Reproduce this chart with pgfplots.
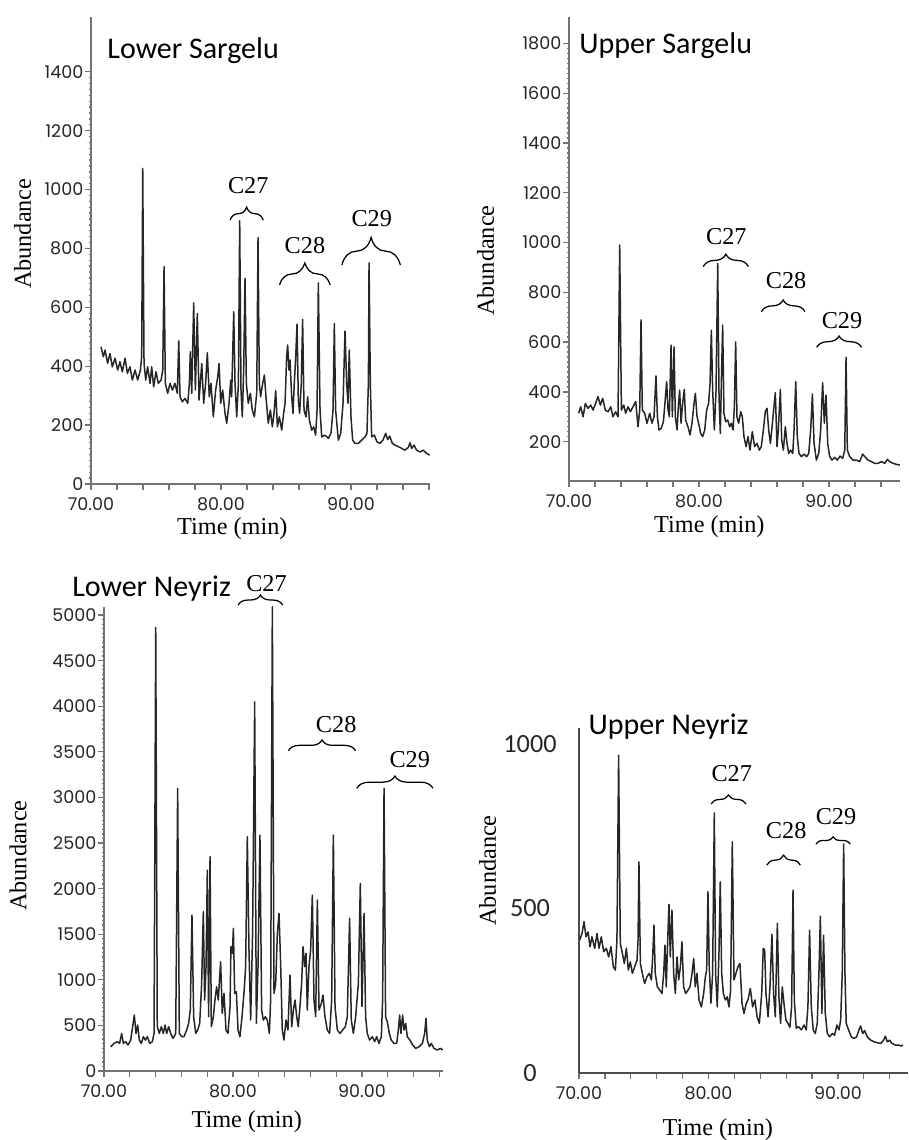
\documentclass[border=0pt]{standalone}
\usepackage{fontspec}
\setmainfont{Liberation Serif}
\newfontfamily\calib{Carlito}
\newfontfamily\goth{Poppins}
\usepackage{pgfplots}
\pgfplotsset{compat=1.18}
\usetikzlibrary{decorations.pathreplacing}

\tikzset{
  trace/.style={black!85, line width=0.6pt, line join=round},
  brc/.style={decorate, decoration={brace, amplitude=#1}, line width=0.5pt},
}
\pgfplotsset{
  chrom/.style={
    scale only axis, clip=false,
    axis x line*=bottom, axis y line*=left,
    axis line style={black!55, line width=0.8pt},
    tick align=outside,
    major tick length=2.4pt, minor tick length=0.8pt,
    tick style={black!55, line width=0.5pt},
    xmin=70,
    xtick={70,72,...,96},
    xticklabels={70.00,{},{},{},{},80.00,{},{},{},{},90.00,{},{},{}},
    scaled y ticks=false,
    /pgf/number format/.cd, 1000 sep={}, assume math mode=true, /pgfplots/.cd,
    ticklabel style={font=\goth\fontsize{7}{8}\selectfont, text=black!85},
    yticklabel style={inner sep=0.5pt},
    xticklabel style={inner sep=0pt, yshift=-2.9pt},
    label style={font=\fontsize{9.7}{11}\selectfont, inner sep=0pt},
    xlabel={Time (min)}, ylabel={Abundance},
  },
}
\newcommand\clab[1]{\fontsize{9.7}{11}\selectfont #1}

\begin{document}
\begin{tikzpicture}
\useasboundingbox (0,0) rectangle (363.6pt,456pt);

% Lower Sargelu
\begin{axis}[chrom, at={(36.4pt,262.4pt)}, anchor=south west,
  width=135.6pt, height=186.8pt, xmax=96.08, ymin=0, ymax=1586,
  ytick={0,200,...,1400}, minor y tick num=9,
  xlabel style={at={(rel axis cs:0.417,-0.0950)}, anchor=center},
  ylabel style={at={(rel axis cs:-0.2015,0.536)}, anchor=center}]
\addplot[trace] coordinates {
(70.77,466)(70.95,432)(71.08,455)(71.28,410)(71.46,443)(71.64,398)(71.85,427)(72.05,387)(72.23,415)(72.41,381)
(72.62,427)(72.80,376)(73.00,398)(73.18,353)(73.39,387)(73.59,353)(73.80,387)(73.90,432)(73.98,1072)(74.08,410)
(74.21,353)(74.36,398)(74.54,342)(74.67,398)(74.82,330)(75.00,381)(75.18,342)(75.39,353)(75.52,387)(75.62,738)
(75.72,342)(75.90,308)(76.08,342)(76.26,319)(76.46,342)(76.64,308)(76.75,486)(76.85,296)(77.03,279)(77.23,291)
(77.44,274)(77.57,342)(77.64,449)(77.75,308)(77.90,615)(78.03,319)(78.18,579)(78.31,285)(78.41,342)(78.52,409)
(78.67,274)(78.82,342)(78.95,446)(79.10,296)(79.23,342)(79.41,228)(79.59,319)(79.75,364)(79.85,409)(79.98,274)
(80.13,319)(80.31,240)(80.44,206)(80.62,274)(80.75,353)(80.82,296)(80.98,585)(81.08,342)(81.21,228)(81.34,342)
(81.44,894)(81.54,319)(81.64,228)(81.75,398)(81.85,698)(81.95,342)(82.10,274)(82.26,308)(82.41,251)(82.57,228)
(82.75,308)(82.85,837)(82.95,342)(83.05,296)(83.21,342)(83.34,370)(83.46,296)(83.64,206)(83.80,251)(83.95,194)
(84.08,240)(84.21,317)(84.34,194)(84.49,228)(84.67,183)(84.82,240)(84.93,274)(85.05,432)(85.13,472)(85.23,387)
(85.31,421)(85.44,296)(85.54,240)(85.64,342)(85.75,432)(85.85,543)(85.95,285)(86.05,240)(86.18,342)(86.28,559)
(86.39,251)(86.54,228)(86.67,296)(86.80,217)(86.98,183)(87.13,194)(87.28,166)(87.39,251)(87.49,683)(87.62,251)
(87.75,160)(88.00,166)(88.26,155)(88.46,172)(88.62,251)(88.72,545)(88.82,251)(89.03,149)(89.21,172)(89.39,274)
(89.54,519)(89.67,342)(89.77,274)(89.87,455)(90.00,228)(90.13,149)(90.31,138)(90.57,138)(90.82,149)(91.08,160)
(91.23,172)(91.34,342)(91.39,751)(91.49,342)(91.59,160)(91.80,166)(92.00,143)(92.23,138)(92.46,149)(92.67,172)
(92.82,151)(92.98,163)(93.18,138)(93.39,132)(93.64,127)(93.90,121)(94.15,115)(94.41,124)(94.54,140)(94.67,121)
(94.85,132)(95.05,115)(95.31,109)(95.56,115)(95.82,104)(96.05,98)
};
\node[anchor=base west, inner sep=0pt, font=\calib\fontsize{12}{14}\selectfont] at (rel axis cs:0.047,0.9116) {Lower Sargelu};
\draw[brc=5.2pt] (axis cs:80.7,896) -- (axis cs:83.25,896);
\node at (axis cs:82.1,1015) {\clab{C27}};
\draw[brc=8.8pt] (axis cs:84.5,676) -- (axis cs:88.4,676);
\node at (axis cs:86.46,811) {\clab{C28}};
\draw[brc=11pt] (axis cs:89.3,744) -- (axis cs:93.8,744);
\node at (axis cs:91.6,903) {\clab{C29}};
\end{axis}

% Upper Sargelu
\begin{axis}[chrom, at={(227.6pt,263.6pt)}, anchor=south west,
  width=132.4pt, height=185.6pt, xmax=95.46, ymin=42, ymax=1906,
  ytick={200,400,...,1800}, minor y tick num=9,
  xlabel style={at={(rel axis cs:0.424,-0.0975)}, anchor=center},
  ylabel style={at={(rel axis cs:-0.2524,0.475)}, anchor=center}]
\addplot[trace] coordinates {
(70.74,314)(70.90,340)(71.08,300)(71.26,354)(71.46,334)(71.67,347)(71.85,327)(72.05,354)(72.23,381)(72.41,347)
(72.59,374)(72.79,327)(73.00,320)(73.21,340)(73.38,300)(73.59,320)(73.77,300)(73.90,990)(74.03,327)(74.21,347)
(74.36,314)(74.54,340)(74.72,320)(74.92,340)(75.13,361)(75.31,260)(75.44,327)(75.54,689)(75.64,327)(75.82,314)
(76.00,274)(76.21,314)(76.38,274)(76.54,300)(76.69,464)(76.80,300)(76.92,247)(77.10,254)(77.26,280)(77.38,354)
(77.51,441)(77.62,327)(77.72,300)(77.85,588)(77.95,300)(78.08,581)(78.18,300)(78.31,247)(78.41,340)(78.51,407)
(78.62,274)(78.74,354)(78.87,410)(78.97,287)(79.15,260)(79.31,227)(79.46,274)(79.62,354)(79.72,394)(79.85,300)
(79.97,274)(80.13,233)(80.28,220)(80.44,247)(80.59,327)(80.74,354)(80.85,434)(80.95,648)(81.05,407)(81.18,247)
(81.31,407)(81.44,916)(81.54,381)(81.64,233)(81.74,488)(81.82,668)(81.92,314)(82.05,280)(82.21,287)(82.36,260)
(82.49,274)(82.62,247)(82.72,340)(82.82,601)(82.92,300)(83.05,274)(83.21,320)(83.33,300)(83.46,220)(83.62,180)
(83.77,220)(83.92,166)(84.10,240)(84.28,180)(84.46,193)(84.64,166)(84.79,180)(84.95,247)(85.10,320)(85.23,334)
(85.36,247)(85.49,193)(85.62,260)(85.74,327)(85.87,397)(86.00,180)(86.10,247)(86.26,410)(86.36,207)(86.49,166)
(86.64,260)(86.77,193)(86.90,153)(87.05,166)(87.21,153)(87.31,247)(87.44,441)(87.56,220)(87.69,153)(87.87,140)
(88.08,150)(88.28,140)(88.44,153)(88.59,247)(88.72,391)(88.85,193)(89.03,126)(89.21,153)(89.36,247)(89.51,437)
(89.64,274)(89.77,387)(89.90,193)(90.05,140)(90.23,126)(90.44,137)(90.64,126)(90.85,142)(91.05,133)(91.21,166)
(91.31,539)(91.41,166)(91.59,140)(91.85,126)(92.10,126)(92.36,120)(92.59,150)(92.80,137)(93.00,126)(93.26,120)
(93.51,113)(93.77,113)(94.03,120)(94.28,113)(94.49,129)(94.67,120)(94.92,113)(95.18,109)(95.44,106)
};
\node[anchor=base west, inner sep=0pt, font=\calib\fontsize{12}{14}\selectfont] at (rel axis cs:0.030,0.9218) {Upper Sargelu};
\draw[brc=5pt] (axis cs:80.33,903) -- (axis cs:83.8,903);
\node at (axis cs:82.1,1023) {\clab{C27}};
\draw[brc=4.7pt] (axis cs:84.8,722) -- (axis cs:88.15,722);
\node at (axis cs:86.7,847) {\clab{C28}};
\draw[brc=4.5pt] (axis cs:89.05,579) -- (axis cs:92.5,579);
\node at (axis cs:91.0,686) {\clab{C29}};
\end{axis}

% Lower Neyriz
\begin{axis}[chrom, at={(41.6pt,27.6pt)}, anchor=south west,
  width=135.6pt, height=185.7pt, xmax=96.28, ymin=0, ymax=5091,
  ytick={0,500,...,5000}, minor y tick num=9,
  xlabel style={at={(rel axis cs:0.421,-0.1098)}, anchor=center},
  ylabel style={at={(rel axis cs:-0.2537,0.464)}, anchor=center}]
\addplot[trace] coordinates {
(70.52,266)(70.78,303)(71.03,321)(71.21,303)(71.37,412)(71.50,303)(71.68,321)(71.86,285)(72.07,339)(72.22,486)
(72.35,614)(72.48,412)(72.61,504)(72.74,339)(72.89,303)(73.05,376)(73.20,339)(73.36,376)(73.54,303)(73.75,321)
(73.88,412)(74.01,4864)(74.13,486)(74.29,412)(74.44,486)(74.60,412)(74.73,504)(74.86,412)(75.01,486)(75.17,412)
(75.35,358)(75.56,412)(75.71,3099)(75.84,412)(76.02,376)(76.20,376)(76.41,449)(76.56,522)(76.69,668)(76.82,1710)
(76.95,595)(77.11,412)(77.26,449)(77.42,522)(77.57,961)(77.70,1747)(77.80,778)(77.91,1144)(78.01,2203)(78.11,595)
(78.22,2350)(78.32,486)(78.48,595)(78.60,778)(78.73,924)(78.86,778)(79.04,1198)(79.17,632)(79.30,851)(79.46,449)
(79.61,412)(79.77,705)(79.84,1363)(79.95,1290)(80.03,1564)(80.13,851)(80.26,869)(80.39,449)(80.54,376)(80.70,595)
(80.85,851)(80.98,1144)(81.11,2569)(81.24,1326)(81.37,559)(81.52,1509)(81.68,4049)(81.81,522)(81.94,1144)(82.09,2587)
(82.22,668)(82.35,559)(82.51,595)(82.66,559)(82.82,412)(82.92,778)(83.05,5091)(83.18,851)(83.31,961)(83.44,1509)
(83.57,1728)(83.70,1144)(83.82,449)(83.95,339)(84.11,559)(84.26,449)(84.42,1052)(84.55,486)(84.68,668)(84.81,778)
(84.94,595)(85.06,486)(85.19,705)(85.32,961)(85.43,1363)(85.56,1144)(85.66,1290)(85.76,668)(85.89,1144)(86.02,1326)
(86.15,1929)(86.28,778)(86.41,595)(86.54,1874)(86.67,668)(86.85,741)(86.98,833)(87.13,595)(87.31,449)(87.49,412)
(87.65,778)(87.78,2587)(87.91,705)(88.09,449)(88.29,412)(88.50,449)(88.71,486)(88.86,595)(89.04,1674)(89.17,559)
(89.33,412)(89.51,595)(89.72,961)(89.87,2057)(90.00,705)(90.16,1728)(90.28,595)(90.41,412)(90.59,339)(90.80,376)
(90.98,321)(91.14,376)(91.32,303)(91.50,376)(91.60,778)(91.71,3099)(91.83,595)(91.96,541)(92.12,412)(92.27,339)
(92.48,303)(92.69,303)(92.82,449)(92.92,614)(93.02,412)(93.15,614)(93.26,449)(93.39,522)(93.51,376)(93.72,339)
(93.93,285)(94.16,248)(94.42,266)(94.68,303)(94.86,412)(94.96,577)(95.06,339)(95.22,266)(95.37,303)(95.58,248)
(95.84,230)(96.10,248)(96.25,230)
};
\node[anchor=base west, inner sep=0pt, font=\calib\fontsize{12}{14}\selectfont] at (rel axis cs:-0.095,1.023) {Lower Neyriz};
\draw[brc=4pt] (axis cs:80.4,5110) -- (axis cs:83.85,5110);
\node at (axis cs:82.6,5348) {\clab{C27}};
\draw[brc=4.3pt] (axis cs:84.3,3512) -- (axis cs:89.5,3512);
\node at (axis cs:88.0,3794) {\clab{C28}};
\draw[brc=4.9pt] (axis cs:89.6,3100) -- (axis cs:95.5,3100);
\node at (axis cs:93.7,3410) {\clab{C29}};
\end{axis}

% Upper Neyriz
\begin{axis}[chrom, at={(231.6pt,26.8pt)}, anchor=south west,
  width=131.6pt, height=138pt, xmax=95.41, ymin=0, ymax=1049,
  axis line style={black!70, line width=0.6pt},
  ytick={0,500,1000}, ytick style={draw=none},
  yticklabel style={font=\calib\fontsize{10.5}{12}\selectfont, anchor=center, xshift=-17.2pt},
  xlabel style={at={(rel axis cs:0.422,-0.165)}, anchor=center},
  ylabel style={at={(rel axis cs:-0.278,0.587)}, anchor=center}]
\addplot[trace] coordinates {
(70.05,404)(70.23,424)(70.39,460)(70.54,414)(70.70,429)(70.85,384)(71.00,414)(71.21,379)(71.39,424)(71.55,379)
(71.72,414)(71.91,369)(72.11,379)(72.29,353)(72.47,384)(72.65,323)(72.81,313)(72.93,404)(73.06,966)(73.19,394)
(73.35,364)(73.50,333)(73.66,379)(73.81,313)(73.96,338)(74.12,303)(74.30,323)(74.48,343)(74.56,404)(74.63,642)
(74.74,333)(74.89,303)(75.07,272)(75.25,293)(75.43,303)(75.59,283)(75.69,353)(75.79,450)(75.89,303)(76.05,262)
(76.23,252)(76.41,242)(76.54,303)(76.64,389)(76.74,262)(76.85,404)(76.95,513)(77.05,353)(77.18,495)(77.31,303)
(77.44,242)(77.57,353)(77.70,283)(77.83,323)(77.95,399)(78.08,262)(78.24,242)(78.42,252)(78.57,262)(78.73,303)
(78.86,348)(78.98,262)(79.11,303)(79.27,222)(79.45,201)(79.63,242)(79.76,293)(79.86,313)(79.96,551)(80.06,323)
(80.19,212)(80.32,303)(80.45,791)(80.55,303)(80.68,201)(80.81,364)(80.91,581)(81.02,303)(81.15,242)(81.30,222)
(81.45,232)(81.58,201)(81.71,252)(81.84,703)(81.97,283)(82.12,303)(82.28,323)(82.43,333)(82.59,212)(82.74,181)
(82.92,212)(83.05,222)(83.23,257)(83.41,201)(83.59,222)(83.75,171)(83.93,151)(84.11,242)(84.23,379)(84.34,374)
(84.44,242)(84.60,171)(84.75,262)(84.90,422)(85.03,242)(85.16,171)(85.32,455)(85.44,232)(85.57,151)(85.70,262)
(85.83,212)(85.98,161)(86.14,151)(86.29,139)(86.42,201)(86.53,556)(86.63,222)(86.78,136)(86.96,141)(87.17,131)
(87.38,146)(87.55,131)(87.68,201)(87.81,434)(87.94,201)(88.09,131)(88.25,120)(88.40,151)(88.53,303)(88.64,477)
(88.76,181)(88.89,419)(89.02,181)(89.18,120)(89.36,110)(89.56,120)(89.74,115)(89.92,146)(90.08,131)(90.21,161)
(90.33,303)(90.44,696)(90.54,303)(90.64,151)(90.82,131)(91.03,110)(91.24,105)(91.44,110)(91.62,131)(91.75,143)
(91.91,120)(92.06,129)(92.27,110)(92.52,100)(92.78,95)(93.04,92)(93.30,90)(93.53,100)(93.66,112)(93.81,95)
(93.99,100)(94.17,90)(94.43,85)(94.68,85)(94.89,82)(95.02,85)
};
\node[anchor=base west, inner sep=0pt, font=\calib\fontsize{12}{14}\selectfont] at (rel axis cs:0.028,0.980) {Upper Neyriz};
\draw[brc=3.6pt] (axis cs:80.2,818) -- (axis cs:82.9,818);
\node at (axis cs:81.8,909) {\clab{C27}};
\draw[brc=4pt] (axis cs:84.5,632) -- (axis cs:87.1,632);
\node at (axis cs:86.0,737) {\clab{C28}};
\draw[brc=2.9pt] (axis cs:88.3,696) -- (axis cs:90.95,696);
\node at (axis cs:89.85,779) {\clab{C29}};
\end{axis}
\end{tikzpicture}
\end{document}
